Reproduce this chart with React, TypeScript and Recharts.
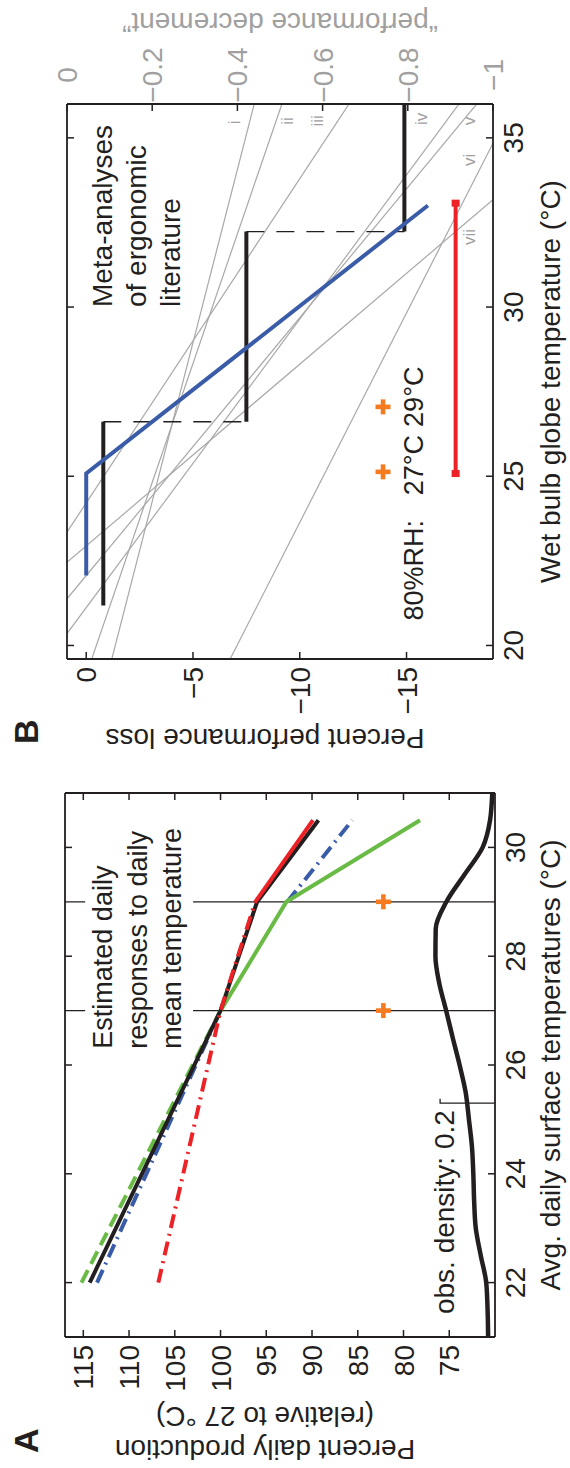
import React from 'react';
import { ComposedChart, Line, Scatter, XAxis, YAxis } from 'recharts';

// ---------- Panel A: estimated daily responses ----------
const RESP_TEMPS = [22, 27, 29, 30.5];
const RESP_BLACK = [114.3, 100, 96.0, 89.3];
const RESP_RED = [106.8, 100, 96.2, 89.9];
const RESP_BLUE = [113.5, 100, 92.7, 85.6];
const RESP_GREEN = [115.2, 100, 92.8, 78.2];

const RH80_AIR_TEMPS = [27, 29];
const RH80_MARK_A = 82.2;

const DENSITY_TEMPS = [21, 21.5, 22, 22.5, 23, 23.5, 24, 24.5, 25, 25.5, 26, 26.5, 27, 27.5, 28, 28.5, 29, 29.5, 30, 30.5, 31];
const DENSITY = [0.025, 0.027, 0.032, 0.052, 0.07, 0.076, 0.079, 0.084, 0.095, 0.107, 0.129, 0.154, 0.178, 0.203, 0.217, 0.216, 0.177, 0.111, 0.045, 0.018, 0.01];
const DENSITY_BASE = 70; // density curve sits on the bottom of the axis
const DENSITY_UNITS = 30; // axis units per 1.0 of density
const DENSITY_BAR = 0.2;
const DENSITY_BAR_TEMP = 25.3;

const A_TEMP_DOMAIN = [21, 31];
const A_PROD_DOMAIN = [70, 117];
const A_TEMP_TICKS = [22, 24, 26, 28, 30];
const A_PROD_TICKS = [75, 80, 85, 90, 95, 100, 105, 110, 115];
const GUIDE_TEMPS = [27, 29];
const GUIDE_GAP = [103, 114.8];

const NOTE_A_POS = [26.3, 111.86];
const NOTE_A_LINES = ['Estimated daily', 'responses to daily', 'mean temperature'];
const OBS_NOTE_POS = [25.17, 74.5];

// ---------- Panel B: meta-analyses of ergonomic literature ----------
const B_WBGT_DOMAIN = [19.6, 36];
const B_LOSS_DOMAIN = [-19.05, 0.9];
const B_DEC_DOMAIN = [-1, 0];
const B_WBGT_TICKS = [20, 25, 30, 35];
const B_LOSS_TICKS = [-15, -10, -5, 0];
const B_DEC_TICKS = [-1, -0.8, -0.6, -0.4, -0.2, 0];

const FIT_WBGT = [22.07, 25.08, 33.0];
const FIT_LOSS = [0, 0, -16];
const STEP_EDGES = [21.18, 26.61, 32.23, 36.0];
const STEP_LOSS = [-0.8, -7.5, -14.9];
const RH80_WBGT_RANGE = [25.08, 33.07];
const RH80_RANGE_LOSS = -17.3;
const RH80_WBGT = [25.13, 27.05];
const RH80_MARK_B = -13.9;

const META_IDS = ['i', 'ii', 'iii', 'iv', 'v', 'vi', 'vii'];
const META_ZERO_WBGT = [14.44, 17.47, 23.35, 20.35, 21.38, 10.14, 22.46];
const META_FULL_WBGT = [63.5, 54.2, 42.46, 37.36, 36.58, 34.84, 33.17];
const META_LABEL_WBGT = [35.46, 35.5, 35.5, 35.56, 35.5, 34.35, 32.07];
const META_LABEL_DEC = [-0.406, -0.53, -0.601, -0.845, -0.958, -0.958, -0.958];

const NOTE_B_POS = [30.0, -1.2];
const NOTE_B_LINES = ['Meta-analyses', 'of ergonomic', 'literature'];
const RH_NOTE_LOSS = -15.77;
const RH_NOTE_START = 20.74;
const RH_NOTE_TEMPS = ['27°C', '29°C'];
const RH_NOTE_CENTERS = [25.33, 27.35];

// ---------- styling ----------
const FONT = '"Liberation Sans", Arial, Helvetica, sans-serif';
const INK = '#231f20';
const BLUE = '#3a5ca8';
const RED = '#ec2227';
const GREEN = '#6abb46';
const ORANGE = '#f47b20';
const GRAY_LINE = '#a8a8a8';
const GRAY_TEXT = '#a0a0a0';
const TICK = 7;
const DASH_DOT = '14 6 2 6';

const pts = (xs: number[], ys: number[]) => xs.map((x, i) => ({ x, y: ys[i] }));

const fmt = (v: number) => {
  const s = String(Math.abs(v));
  return v < 0 ? '\u2212' + s : s;
};

type Side = 'bottom' | 'top' | 'left' | 'right';
const tickRenderer = (side: Side, showLabel: boolean, labelColor: string = INK) => (props: any) => {
  const { x, y, payload } = props;
  const label = fmt(payload.value);
  const txt = { fontFamily: FONT, fontSize: 28, fill: labelColor };
  const ln = { stroke: INK, strokeWidth: 1.5 };
  if (side === 'bottom') {
    return (
      <g>
        <line x1={x} y1={y} x2={x} y2={y - TICK} {...ln} />
        {showLabel && <text x={x} y={y + 30} textAnchor="middle" {...txt}>{label}</text>}
      </g>
    );
  }
  if (side === 'top') {
    return <g><line x1={x} y1={y} x2={x} y2={y + TICK} {...ln} /></g>;
  }
  if (side === 'left') {
    return (
      <g>
        <line x1={x} y1={y} x2={x + TICK} y2={y} {...ln} />
        {showLabel && <text x={x - 8} y={y} dy="0.36em" textAnchor="end" {...txt}>{label}</text>}
      </g>
    );
  }
  return (
    <g>
      <line x1={x} y1={y} x2={x - TICK} y2={y} {...ln} />
      {showLabel && <text x={x + 29} y={y} dy="0.36em" textAnchor="middle" {...txt}>{label}</text>}
    </g>
  );
};

const textShape = (lines: string[], anchor: 'start' | 'middle' | 'end', size: number, color: string, step = 34, dy = '0') => (p: any) => (
  <text x={p.cx} y={p.cy} dy={dy} textAnchor={anchor} fontFamily={FONT} fontSize={size} fill={color}>
    {lines.map((s, i) => (
      <tspan key={i} x={p.cx} dy={i === 0 ? 0 : step}>{s}</tspan>
    ))}
  </text>
);

const plusShape = (p: any) => {
  const a = 7.5;
  const w = 2.3;
  return (
    <g fill={ORANGE}>
      <rect x={p.cx - a} y={p.cy - w} width={2 * a} height={2 * w} />
      <rect x={p.cx - w} y={p.cy - a} width={2 * w} height={2 * a} />
    </g>
  );
};

const capDot = (p: any) => (
  <rect key={`cap-${p.index}`} x={p.cx - 3.5} y={p.cy - 4} width={7} height={8} fill={RED} />
);

const axisLine = { stroke: INK, strokeWidth: 1.8 };
const common = { isAnimationActive: false, dot: false, activeDot: false, legendType: 'none' as const, type: 'linear' as const };
// axes keep a 1px band (a zero-sized axis is not drawn); margins below account for it
const AX = 1;

function PanelA() {
  const ids = { xAxisId: 'bx', yAxisId: 'ly' };
  const guides = GUIDE_TEMPS.flatMap((t) => [
    [{ x: t, y: A_PROD_DOMAIN[0] }, { x: t, y: GUIDE_GAP[0] }],
    [{ x: t, y: GUIDE_GAP[1] }, { x: t, y: A_PROD_DOMAIN[1] }],
  ]);
  const densityPts = pts(DENSITY_TEMPS, DENSITY.map((d) => DENSITY_BASE + d * DENSITY_UNITS));
  const barTop = DENSITY_BASE + DENSITY_BAR * DENSITY_UNITS;
  const densityBar = [
    { x: DENSITY_BAR_TEMP, y: DENSITY_BASE },
    { x: DENSITY_BAR_TEMP, y: barTop },
    { x: DENSITY_BAR_TEMP + 0.08, y: barTop },
  ];
  return (
    <ComposedChart width={760} height={570} margin={{ top: 65 - AX, right: 85 - AX, bottom: 75 - AX, left: 131 - AX }}>
      <XAxis xAxisId="bx" dataKey="x" type="number" domain={A_TEMP_DOMAIN} ticks={A_TEMP_TICKS} interval={0}
        allowDataOverflow height={AX} tickSize={0} tickMargin={0} tickLine={false} axisLine={axisLine}
        tick={tickRenderer('bottom', true)} />
      <XAxis xAxisId="tx" orientation="top" dataKey="x" type="number" domain={A_TEMP_DOMAIN} ticks={A_TEMP_TICKS} interval={0}
        allowDataOverflow height={AX} tickSize={0} tickMargin={0} tickLine={false} axisLine={axisLine}
        tick={tickRenderer('top', false)} />
      <YAxis yAxisId="ly" dataKey="y" type="number" domain={A_PROD_DOMAIN} ticks={A_PROD_TICKS} interval={0}
        allowDataOverflow width={AX} tickSize={0} tickMargin={0} tickLine={false} axisLine={axisLine}
        tick={tickRenderer('left', true)} />
      <YAxis yAxisId="ry" orientation="right" dataKey="y" type="number" domain={A_PROD_DOMAIN} ticks={A_PROD_TICKS} interval={0}
        allowDataOverflow width={AX} tickSize={0} tickMargin={0} tickLine={false} axisLine={axisLine}
        tick={tickRenderer('right', false)} />

      {guides.map((g, i) => (
        <Line key={`g${i}`} {...common} {...ids} data={g} dataKey="y" stroke={INK} strokeWidth={1.2} />
      ))}

      <Line {...common} {...ids} data={densityPts} dataKey="y" type="monotone" stroke={INK} strokeWidth={4.5} />
      <Line {...common} {...ids} data={densityBar} dataKey="y" stroke={INK} strokeWidth={1.3} />

      <Line {...common} {...ids} data={pts(RESP_TEMPS.slice(0, 2), RESP_BLUE.slice(0, 2))} dataKey="y" stroke={BLUE} strokeWidth={4} strokeDasharray={DASH_DOT} />
      <Line {...common} {...ids} data={pts(RESP_TEMPS.slice(1, 3), RESP_BLUE.slice(1, 3))} dataKey="y" stroke={BLUE} strokeWidth={1.6} />
      <Line {...common} {...ids} data={pts(RESP_TEMPS.slice(2, 4), RESP_BLUE.slice(2, 4))} dataKey="y" stroke={BLUE} strokeWidth={4} strokeDasharray={DASH_DOT} />

      <Line {...common} {...ids} data={pts(RESP_TEMPS.slice(0, 2), RESP_GREEN.slice(0, 2))} dataKey="y" stroke={GREEN} strokeWidth={4} strokeDasharray="14 7" />
      <Line {...common} {...ids} data={pts(RESP_TEMPS.slice(1, 4), RESP_GREEN.slice(1, 4))} dataKey="y" stroke={GREEN} strokeWidth={4} />

      <Line {...common} {...ids} data={pts(RESP_TEMPS, RESP_BLACK)} dataKey="y" stroke={INK} strokeWidth={4} />

      <Line {...common} {...ids} data={pts(RESP_TEMPS.slice(0, 3), RESP_RED.slice(0, 3))} dataKey="y" stroke={RED} strokeWidth={4} strokeDasharray={DASH_DOT} />
      <Line {...common} {...ids} data={pts(RESP_TEMPS.slice(2, 4), RESP_RED.slice(2, 4))} dataKey="y" stroke={RED} strokeWidth={4} />

      <Scatter {...ids} isAnimationActive={false} legendType="none"
        data={RH80_AIR_TEMPS.map((t) => ({ x: t, y: RH80_MARK_A }))} shape={plusShape} />

      <Scatter {...ids} isAnimationActive={false} legendType="none"
        data={[{ x: NOTE_A_POS[0], y: NOTE_A_POS[1] }]} shape={textShape(NOTE_A_LINES, 'start', 27, INK, 34.5)} />
      <Scatter {...ids} isAnimationActive={false} legendType="none"
        data={[{ x: OBS_NOTE_POS[0], y: OBS_NOTE_POS[1] }]} shape={textShape([`obs. density: ${DENSITY_BAR}`], 'end', 28, INK)} />
    </ComposedChart>
  );
}

function PanelB() {
  const lossIds = { xAxisId: 'bx', yAxisId: 'loss' };
  const decIds = { xAxisId: 'bx', yAxisId: 'dec' };
  const steps = STEP_LOSS.map((l, k) => [{ x: STEP_EDGES[k], y: l }, { x: STEP_EDGES[k + 1], y: l }]);
  const risers = STEP_LOSS.slice(1).map((l, k) => [{ x: STEP_EDGES[k + 1], y: STEP_LOSS[k] }, { x: STEP_EDGES[k + 1], y: l }]);
  return (
    <ComposedChart width={768} height={570} margin={{ top: 67 - AX, right: 104 - AX, bottom: 77 - AX, left: 109 - AX }}>
      <XAxis xAxisId="bx" dataKey="x" type="number" domain={B_WBGT_DOMAIN} ticks={B_WBGT_TICKS} interval={0}
        allowDataOverflow height={AX} tickSize={0} tickMargin={0} tickLine={false} axisLine={axisLine}
        tick={tickRenderer('bottom', true)} />
      <XAxis xAxisId="tx" orientation="top" dataKey="x" type="number" domain={B_WBGT_DOMAIN} ticks={B_WBGT_TICKS} interval={0}
        allowDataOverflow height={AX} tickSize={0} tickMargin={0} tickLine={false} axisLine={axisLine}
        tick={tickRenderer('top', false)} />
      <YAxis yAxisId="loss" dataKey="y" type="number" domain={B_LOSS_DOMAIN} ticks={B_LOSS_TICKS} interval={0}
        allowDataOverflow width={AX} tickSize={0} tickMargin={0} tickLine={false} axisLine={axisLine}
        tick={tickRenderer('left', true)} />
      <YAxis yAxisId="dec" orientation="right" dataKey="y" type="number" domain={B_DEC_DOMAIN} ticks={B_DEC_TICKS} interval={0}
        allowDataOverflow width={AX} tickSize={0} tickMargin={0} tickLine={false} axisLine={axisLine}
        tick={tickRenderer('right', true, GRAY_TEXT)} />

      {META_IDS.map((id, i) => (
        <Line key={`m-${id}`} {...common} {...decIds} dataKey="y" stroke={GRAY_LINE} strokeWidth={1.2}
          data={[{ x: META_ZERO_WBGT[i], y: 0 }, { x: META_FULL_WBGT[i], y: -1 }]} />
      ))}
      {META_IDS.map((id, i) => (
        <Scatter key={`ml-${id}`} {...decIds} isAnimationActive={false} legendType="none"
          data={[{ x: META_LABEL_WBGT[i], y: META_LABEL_DEC[i] }]}
          shape={textShape([id], 'middle', 17, GRAY_TEXT, 0, '0.35em')} />
      ))}

      {risers.map((r, i) => (
        <Line key={`r${i}`} {...common} {...lossIds} data={r} dataKey="y" stroke={INK} strokeWidth={1.4} strokeDasharray="18 12" />
      ))}
      {steps.map((s, i) => (
        <Line key={`s${i}`} {...common} {...lossIds} data={s} dataKey="y" stroke={INK} strokeWidth={4} />
      ))}

      <Line {...common} {...lossIds} data={pts(FIT_WBGT, FIT_LOSS)} dataKey="y" stroke={BLUE} strokeWidth={4} />

      <Line {...common} {...lossIds} data={RH80_WBGT_RANGE.map((w) => ({ x: w, y: RH80_RANGE_LOSS }))} dataKey="y"
        stroke={RED} strokeWidth={4} dot={capDot} />

      <Scatter {...lossIds} isAnimationActive={false} legendType="none"
        data={RH80_WBGT.map((w) => ({ x: w, y: RH80_MARK_B }))} shape={plusShape} />

      <Scatter {...lossIds} isAnimationActive={false} legendType="none"
        data={[{ x: NOTE_B_POS[0], y: NOTE_B_POS[1] }]} shape={textShape(NOTE_B_LINES, 'start', 28, INK, 34)} />
      <Scatter {...lossIds} isAnimationActive={false} legendType="none"
        data={[{ x: RH_NOTE_START, y: RH_NOTE_LOSS }]} shape={textShape(['80%RH:'], 'start', 27, INK)} />
      {RH_NOTE_TEMPS.map((s, i) => (
        <Scatter key={`rh-${i}`} {...lossIds} isAnimationActive={false} legendType="none"
          data={[{ x: RH_NOTE_CENTERS[i], y: RH_NOTE_LOSS }]} shape={textShape([s], 'middle', 27, INK)} />
      ))}
    </ComposedChart>
  );
}

export default function App() {
  const title = { fontFamily: FONT, fontSize: 28, fill: INK };
  return (
    <div style={{ position: 'absolute', left: 0, top: 0, width: 570, height: 1468, overflow: 'hidden', background: '#fff' }}>
      <div style={{
        position: 'absolute', left: 0, top: 0, width: 1468, height: 570,
        transformOrigin: '0 0', transform: 'translate(0px, 1468px) rotate(-90deg)', background: '#fff',
      }}>
        <div style={{ position: 'absolute', left: 0, top: 0 }}>
          <PanelA />
        </div>
        <div style={{ position: 'absolute', left: 700, top: 0 }}>
          <PanelB />
        </div>
        <svg width={1468} height={570} style={{ position: 'absolute', left: 0, top: 0, pointerEvents: 'none' }}>
          <text x={15} y={38} fontFamily={FONT} fontSize={34} fontWeight="bold" fill={INK}>A</text>
          <text x={724} y={38} fontFamily={FONT} fontSize={34} fontWeight="bold" fill={INK}>B</text>

          <text x={403} y={560} textAnchor="middle" {...title}>Avg. daily surface temperatures (°C)</text>
          <text transform="translate(28.5,265) rotate(-90)" textAnchor="middle" {...title}>Percent daily production</text>
          <text transform="translate(61.5,265) rotate(-90)" textAnchor="middle" {...title}>(relative to 27 °C)</text>

          <text x={1086.5} y={560} textAnchor="middle" {...title}>Wet bulb globe temperature (°C)</text>
          <text transform="translate(739,265) rotate(-90)" textAnchor="middle" {...title}>Percent performance loss</text>
          <text transform="translate(1455,280) rotate(-90)" textAnchor="middle" {...title} fill={GRAY_TEXT}>“performance decrement”</text>
        </svg>
      </div>
    </div>
  );
}
